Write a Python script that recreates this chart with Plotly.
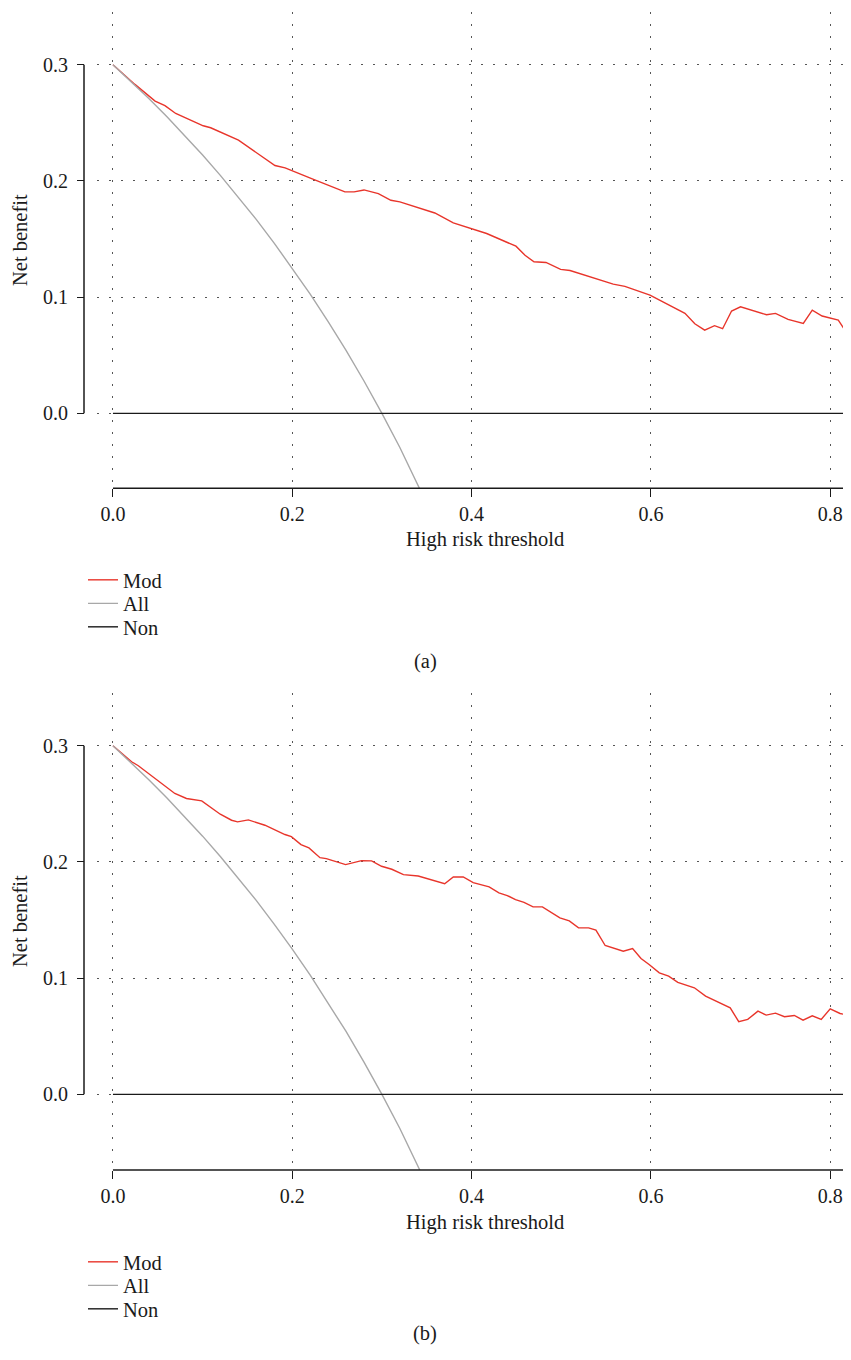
import plotly.graph_objects as go

# The page adds an 8px body margin, so the figure is 16px smaller than the window
OFF = 8
W, H = 851 - OFF, 1360 - 2 * OFF

# ---------------- data ----------------
mod_a_x = [0.0, 0.0245, 0.047, 0.058, 0.07, 0.1007, 0.109, 0.14, 0.1807, 0.192,
           0.2216, 0.2587, 0.269, 0.28, 0.296, 0.31, 0.32, 0.359, 0.3796, 0.3982,
           0.4168, 0.4495, 0.4596, 0.4696, 0.483, 0.4993, 0.5098, 0.558, 0.571,
           0.599, 0.638, 0.649, 0.66, 0.671, 0.68, 0.69, 0.70, 0.729, 0.739,
           0.753, 0.77, 0.78, 0.791, 0.809, 0.822, 0.83]
mod_a_y = [0.300, 0.283, 0.2687, 0.2647, 0.258, 0.2474, 0.2457, 0.235, 0.2132, 0.2112,
           0.202, 0.1905, 0.1905, 0.1922, 0.1891, 0.1833, 0.1819, 0.1724, 0.1638, 0.159,
           0.1547, 0.1438, 0.136, 0.1304, 0.1298, 0.1238, 0.1229, 0.1112, 0.1092,
           0.1017, 0.086, 0.0771, 0.0716, 0.0754, 0.0728, 0.088, 0.0917, 0.0848, 0.086,
           0.0808, 0.0774, 0.0888, 0.0837, 0.0802, 0.0653, 0.058]

mod_b_x = [0.0, 0.0208, 0.0283, 0.069, 0.082, 0.099, 0.1197, 0.1323, 0.139, 0.151,
           0.1695, 0.1918, 0.199, 0.2097, 0.2186, 0.2309, 0.238, 0.2595, 0.2773, 0.2885,
           0.2996, 0.311, 0.324, 0.3405, 0.37, 0.3796, 0.3907, 0.4018, 0.4196, 0.4305,
           0.4398, 0.449, 0.4585, 0.4686, 0.479, 0.4985, 0.509, 0.5193, 0.5305, 0.5387,
           0.549, 0.5692, 0.5796, 0.589, 0.598, 0.6094, 0.6198, 0.63, 0.6485, 0.661,
           0.6885, 0.698, 0.708, 0.7194, 0.7286, 0.739, 0.749, 0.76, 0.7697, 0.78,
           0.79, 0.80, 0.811, 0.8197, 0.823, 0.83]
mod_b_y = [0.300, 0.2862, 0.2828, 0.2589, 0.2546, 0.2526, 0.2411, 0.2359, 0.2345, 0.2362,
           0.2316, 0.2236, 0.2218, 0.2149, 0.2121, 0.2037, 0.2029, 0.1977, 0.2011, 0.2009,
           0.1963, 0.1937, 0.1891, 0.1879, 0.1813, 0.1871, 0.1871, 0.1822, 0.1785, 0.1734,
           0.1711, 0.1676, 0.1653, 0.1613, 0.1613, 0.1519, 0.1493, 0.1433, 0.1433, 0.1413,
           0.1281, 0.1232, 0.1255, 0.1169, 0.1117, 0.1046, 0.1017, 0.0963, 0.0917, 0.0845,
           0.0745, 0.0625, 0.0645, 0.0716, 0.0682, 0.0699, 0.0668, 0.0679, 0.0639, 0.0676,
           0.0645, 0.0736, 0.0696, 0.0682, 0.0639, 0.060]

all_x = [0.0, 0.02, 0.04, 0.06, 0.08, 0.10, 0.12, 0.14, 0.16, 0.18, 0.20,
         0.22, 0.24, 0.26, 0.28, 0.30, 0.32, 0.34, 0.36]
all_y = [0.300, 0.2857, 0.2708, 0.2553, 0.2391, 0.2222, 0.2045, 0.186, 0.1667, 0.1463,
         0.125, 0.1026, 0.0789, 0.0541, 0.0278, 0.0, -0.0294, -0.0606, -0.0938]

non_x = [0.0, 0.83]
non_y = [0.0, 0.0]

x_ticks = [0.0, 0.2, 0.4, 0.6, 0.8]
x_ticktext = ["0.0", "0.2", "0.4", "0.6", "0.8"]
y_ticks = [0.0, 0.1, 0.2, 0.3]
y_ticktext = ["0.0", "0.1", "0.2", "0.3"]
series_names = ["Mod", "All", "Non"]
panel_labels = ["(a)", "(b)"]
x_title = "High risk threshold"
y_title = "Net benefit"

# ---------------- style ----------------
FONT = "Liberation Serif"
RED = "#e8352b"
GRAY = "#a8a8a8"
BLACK = "#1a1a1a"
GRIDC = "#555555"
COLORS = [RED, GRAY, BLACK]
TICK_SIZE = 20
TEXT_SIZE = 20.5


def px_x(p):  # reference window pixel -> paper fraction
    return (p - OFF) / W


def px_y(p):
    return 1 - (p - OFF) / H


panels = [
    dict(top=12, bottom=488.3, yrange=[-0.0645, 0.3453], mod=(mod_a_x, mod_a_y),
         legend_rows=[580, 603.5, 627], label_y=662, xtitle_y=540, ytitle_y=240),
    dict(top=693, bottom=1170, yrange=[-0.0651, 0.3454], mod=(mod_b_x, mod_b_y),
         legend_rows=[1262, 1285.5, 1309], label_y=1333, xtitle_y=1222, ytitle_y=921),
]
xrange_ = [-0.0178, 0.8232]
plot_left = 97
yaxis_px = 84
legend_x = 83

fig = go.Figure()
shapes = []
annotations = []
layout_upd = {}

leg_idx = 0
for i, p in enumerate(panels):
    sfx = "" if i == 0 else str(i + 1)
    xa = "x" + sfx
    ya = "y" + sfx
    mx, my = p["mod"]
    series = [(mx, my), (all_x, all_y), (non_x, non_y)]
    for k, (sx, sy) in enumerate(series):
        leg_idx += 1
        leg = "legend" if leg_idx == 1 else "legend" + str(leg_idx)
        fig.add_trace(go.Scatter(x=sx, y=sy, mode="lines", name=series_names[k],
                                 line=dict(color=COLORS[k], width=1.4),
                                 xaxis=xa, yaxis=ya, legend=leg))
        layout_upd[leg] = dict(x=px_x(legend_x), xanchor="left",
                               y=px_y(p["legend_rows"][k]), yanchor="middle",
                               bgcolor="rgba(0,0,0,0)", borderwidth=0,
                               font=dict(family=FONT, size=TEXT_SIZE, color=BLACK))

    dom_y = [px_y(p["bottom"]), px_y(p["top"])]
    layout_upd["xaxis" + sfx] = dict(
        domain=[px_x(plot_left), 1.0], range=xrange_, anchor=ya,
        tickvals=x_ticks, ticktext=x_ticktext, ticks="outside", ticklen=8,
        tickwidth=1.3, tickcolor=BLACK, showline=False, zeroline=False,
        showgrid=True, gridcolor=GRIDC, gridwidth=1.3, griddash="2px,10px",
        tickfont=dict(family=FONT, size=TICK_SIZE, color=BLACK), fixedrange=True)
    layout_upd["yaxis" + sfx] = dict(
        domain=dom_y, range=p["yrange"], anchor="free", position=px_x(yaxis_px),
        tickvals=y_ticks, ticktext=y_ticktext, ticks="outside", ticklen=7,
        tickwidth=1.3, tickcolor=BLACK, showline=False, zeroline=False,
        showgrid=True, gridcolor=GRIDC, gridwidth=1.3, griddash="2px,10px",
        ticklabelstandoff=5,
        tickfont=dict(family=FONT, size=TICK_SIZE, color=BLACK), fixedrange=True)

    # axis lines (R style: y axis spans the ticks only)
    shapes.append(dict(type="line", xref="paper", yref=ya, x0=px_x(yaxis_px), x1=px_x(yaxis_px),
                       y0=y_ticks[0], y1=y_ticks[-1], line=dict(color=BLACK, width=1.5)))
    shapes.append(dict(type="line", xref=xa, yref=ya + " domain", x0=x_ticks[0], x1=xrange_[1],
                       y0=0, y1=0, line=dict(color=BLACK, width=1.5)))
    annotations.append(dict(text=x_title, xref="paper", yref="paper", x=px_x(485),
                            y=px_y(p["xtitle_y"]), showarrow=False, xanchor="center",
                            yanchor="middle", font=dict(family=FONT, size=TEXT_SIZE, color=BLACK)))
    annotations.append(dict(text=y_title, xref="paper", yref="paper", x=px_x(20),
                            y=px_y(p["ytitle_y"]), showarrow=False, textangle=-90,
                            xanchor="center", yanchor="middle",
                            font=dict(family=FONT, size=TEXT_SIZE, color=BLACK)))
    annotations.append(dict(text=panel_labels[i], xref="paper", yref="paper", x=px_x(425),
                            y=px_y(p["label_y"]), showarrow=False, xanchor="center",
                            yanchor="middle", font=dict(family=FONT, size=TEXT_SIZE, color=BLACK)))

fig.update_layout(**layout_upd)
fig.update_layout(width=W, height=H, margin=dict(l=0, r=0, t=0, b=0),
                  paper_bgcolor="white", plot_bgcolor="white", showlegend=True,
                  shapes=shapes, annotations=annotations)

fig.write_html("out.html")
